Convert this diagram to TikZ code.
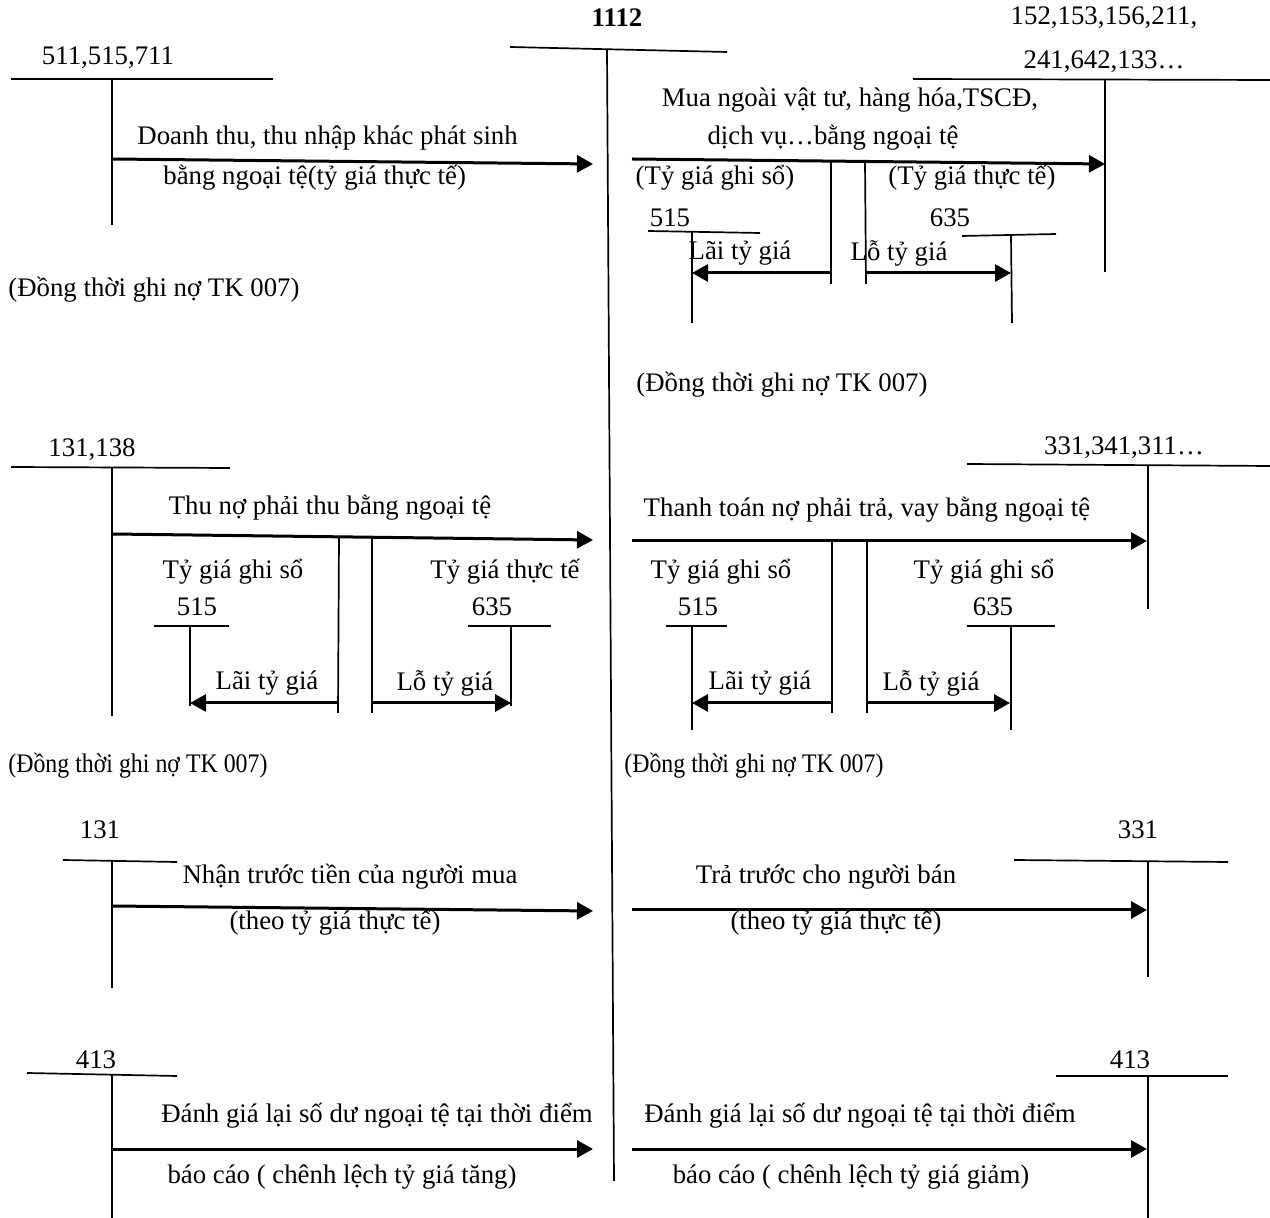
\documentclass[tikz,border=0pt]{standalone}
\usepackage{fontspec}
\setmainfont{Liberation Serif}
\usepackage{graphicx}
\usetikzlibrary{arrows.meta}
\begin{document}
\begin{tikzpicture}[x=0.5pt,y=-0.5pt,
  tline/.style={line width=0.85pt},
  flow/.style={line width=1.5pt,-{Triangle[length=8pt,width=8.5pt]}},
  lbl/.style={font=\fontsize{13.4}{15}\selectfont, inner sep=0pt},
  lblw/.style={lbl, anchor=west},
]
\useasboundingbox (0,0) rectangle (1270,1218);

% ---------- central account 1112 ----------
\node[lbl] (t1112) at (617,18) {\textbf{1112}};
\coordinate (cL) at (510,47);
\coordinate (cR) at (727,52);
\coordinate (cTop) at (607,50);
\coordinate (cBot) at (614,1181);
\draw[tline] (cL) -- (cR);
\draw[tline] (cTop) -- (cBot);

% ---------- Row 1 left: 511,515,711 ----------
\node[lbl] (n511) at (108,58) {511,515,711};
\coordinate (aL) at (11,79);
\coordinate (aR) at (273,79);
\coordinate (aTop) at (112,79);
\coordinate (aBot) at (112,225);
\draw[tline] (aL) -- (aR);
\draw[tline] (aTop) -- (aBot);
\coordinate (aS) at (112,159);
\coordinate (aE) at (593,164);
\draw[flow] (aS) -- (aE);
\node[lblw] (a1) at (137,138) {Doanh thu, thu nhập khác phát sinh};
\node[lblw] (a2) at (163,178) {bằng ngoại tệ(tỷ giá thực tế)};
\node[lblw] (a3) at (8,290) {(Đồng thời ghi nợ TK 007)};

% ---------- Row 1 right: 152,... ----------
\node[lbl] (n152) at (1104,18) {152,153,156,211,};
\node[lbl] (n241) at (1104,62) {241,642,133…};
\coordinate (bL) at (913,79);
\coordinate (bR) at (1270,80);
\coordinate (bTop) at (1105,80);
\coordinate (bBot) at (1105,272);
\draw[tline] (bL) -- (bR);
\draw[tline] (bTop) -- (bBot);
\coordinate (bS) at (632,159);
\coordinate (bE) at (1105,164);
\draw[flow] (bS) -- (bE);
\node[lbl] (b1) at (850,100) {Mua ngoài vật tư, hàng hóa,TSCĐ,};
\node[lbl] (b2) at (833,138) {dịch vụ…bằng ngoại tệ};
\node[lbl] (b3) at (715,178) {(Tỷ giá ghi sổ)};
\node[lbl] (b4) at (972,178) {(Tỷ giá thực tế)};
\coordinate (bV1t) at (831,161);
\coordinate (bV1b) at (831,284);
\coordinate (bV2t) at (865,161);
\coordinate (bV2b) at (866,284);
\draw[tline] (bV1t) -- (bV1b);
\draw[tline] (bV2t) -- (bV2b);
\node[lbl] (b515) at (670,218) {515};
\coordinate (b5L) at (648,231);
\coordinate (b5R) at (760,233);
\coordinate (b5Top) at (692,232);
\coordinate (b5Bot) at (692,323);
\draw[tline] (b5L) -- (b5R);
\draw[tline] (b5Top) -- (b5Bot);
\node[lbl] (b635) at (950,218) {635};
\coordinate (b6L) at (962,236);
\coordinate (b6R) at (1056,234);
\coordinate (b6Top) at (1011,235);
\coordinate (b6Bot) at (1012,323);
\draw[tline] (b6L) -- (b6R);
\draw[tline] (b6Top) -- (b6Bot);
\coordinate (bLs) at (831,273);
\coordinate (bLe) at (692,273);
\coordinate (bRs) at (866,273);
\coordinate (bRe) at (1011,273);
\draw[flow] (bLs) -- (bLe);
\draw[flow] (bRs) -- (bRe);
\node[lbl] (b5t) at (740,253) {Lãi tỷ giá};
\node[lbl] (b6t) at (899,253) {Lỗ tỷ giá};
\node[lblw] (b7) at (636,385) {(Đồng thời ghi nợ TK 007)};

% ---------- Row 2 left: 131,138 ----------
\node[lbl] (n131138) at (92,450) {131,138};
\coordinate (cl1L) at (11,467);
\coordinate (cl1R) at (230,468);
\coordinate (cl1Top) at (112,468);
\coordinate (cl1Bot) at (112,716);
\draw[tline] (cl1L) -- (cl1R);
\draw[tline] (cl1Top) -- (cl1Bot);
\coordinate (c1S) at (112,534);
\coordinate (c1E) at (593,540);
\draw[flow] (c1S) -- (c1E);
\node[lbl] (c1t) at (330,508) {Thu nợ phải thu bằng ngoại tệ};
\coordinate (c1V1t) at (339,537);
\coordinate (c1V1b) at (338,713);
\coordinate (c1V2t) at (372,538);
\coordinate (c1V2b) at (372,713);
\draw[tline] (c1V1t) -- (c1V1b);
\draw[tline] (c1V2t) -- (c1V2b);
\node[lbl] (c1g) at (233,572) {Tỷ giá ghi sổ};
\node[lbl] (c1h) at (505,572) {Tỷ giá thực tế};
\node[lbl] (c1515) at (197,607) {515};
\coordinate (c15L) at (154,626);
\coordinate (c15R) at (229,626);
\coordinate (c15Top) at (190,626);
\coordinate (c15Bot) at (190,706);
\draw[tline] (c15L) -- (c15R);
\draw[tline] (c15Top) -- (c15Bot);
\node[lbl] (c1635) at (492,607) {635};
\coordinate (c16L) at (468,626);
\coordinate (c16R) at (551,626);
\coordinate (c16Top) at (511,626);
\coordinate (c16Bot) at (511,706);
\draw[tline] (c16L) -- (c16R);
\draw[tline] (c16Top) -- (c16Bot);
\coordinate (c1Ls) at (338,703);
\coordinate (c1Le) at (190,703);
\coordinate (c1Rs) at (372,703);
\coordinate (c1Re) at (511,703);
\draw[flow] (c1Ls) -- (c1Le);
\draw[flow] (c1Rs) -- (c1Re);
\node[lbl] (c1lai) at (267,683) {Lãi tỷ giá};
\node[lbl] (c1lo) at (445,683) {Lỗ tỷ giá};
\node[lblw] (c1d) at (8,766) {\scalebox{0.89}[1]{(Đồng thời ghi nợ TK 007)}};

% ---------- Row 2 right: 331,341,311 ----------
\node[lbl] (n331341) at (1124,448) {331,341,311…};
\coordinate (d1L) at (967,464);
\coordinate (d1R) at (1270,466);
\coordinate (d1Top) at (1148,466);
\coordinate (d1Bot) at (1148,609);
\draw[tline] (d1L) -- (d1R);
\draw[tline] (d1Top) -- (d1Bot);
\coordinate (d1S) at (632,541);
\coordinate (d1E) at (1147,541);
\draw[flow] (d1S) -- (d1E);
\node[lbl] (d1t) at (867,510) {Thanh toán nợ phải trả, vay bằng ngoại tệ};
\coordinate (d1V1t) at (832,541);
\coordinate (d1V1b) at (832,713);
\coordinate (d1V2t) at (867,541);
\coordinate (d1V2b) at (867,713);
\draw[tline] (d1V1t) -- (d1V1b);
\draw[tline] (d1V2t) -- (d1V2b);
\node[lbl] (d1g) at (721,572) {Tỷ giá ghi sổ};
\node[lbl] (d1h) at (984,572) {Tỷ giá ghi sổ};
\node[lbl] (d1515) at (698,607) {515};
\coordinate (d15L) at (666,626);
\coordinate (d15R) at (727,626);
\coordinate (d15Top) at (692,626);
\coordinate (d15Bot) at (692,730);
\draw[tline] (d15L) -- (d15R);
\draw[tline] (d15Top) -- (d15Bot);
\node[lbl] (d1635) at (993,607) {635};
\coordinate (d16L) at (967,626);
\coordinate (d16R) at (1055,626);
\coordinate (d16Top) at (1011,626);
\coordinate (d16Bot) at (1011,730);
\draw[tline] (d16L) -- (d16R);
\draw[tline] (d16Top) -- (d16Bot);
\coordinate (d1Ls) at (832,703);
\coordinate (d1Le) at (692,703);
\coordinate (d1Rs) at (867,703);
\coordinate (d1Re) at (1010,703);
\draw[flow] (d1Ls) -- (d1Le);
\draw[flow] (d1Rs) -- (d1Re);
\node[lbl] (d1lai) at (760,683) {Lãi tỷ giá};
\node[lbl] (d1lo) at (931,683) {Lỗ tỷ giá};
\node[lblw] (d1d) at (624,766) {\scalebox{0.89}[1]{(Đồng thời ghi nợ TK 007)}};

% ---------- Row 3 left: 131 ----------
\node[lbl] (n131) at (100,830) {131};
\coordinate (e1L) at (63,860);
\coordinate (e1R) at (177,862);
\coordinate (e1Top) at (112,861);
\coordinate (e1Bot) at (112,988);
\draw[tline] (e1L) -- (e1R);
\draw[tline] (e1Top) -- (e1Bot);
\coordinate (e1S) at (112,906);
\coordinate (e1E) at (593,911);
\draw[flow] (e1S) -- (e1E);
\node[lbl] (e1t) at (350,877) {Nhận trước tiền của người mua};
\node[lbl] (e1u) at (335,923) {(theo tỷ giá thực tế)};

% ---------- Row 3 right: 331 ----------
\node[lbl] (n331) at (1138,830) {331};
\coordinate (f1L) at (1014,860);
\coordinate (f1R) at (1228,862);
\coordinate (f1Top) at (1148,861);
\coordinate (f1Bot) at (1148,977);
\draw[tline] (f1L) -- (f1R);
\draw[tline] (f1Top) -- (f1Bot);
\coordinate (f1S) at (632,910);
\coordinate (f1E) at (1147,910);
\draw[flow] (f1S) -- (f1E);
\node[lbl] (f1t) at (826,877) {Trả trước cho người bán};
\node[lbl] (f1u) at (836,923) {(theo tỷ giá thực tế)};

% ---------- Row 4 left: 413 ----------
\node[lbl] (n413a) at (96,1060) {413};
\coordinate (g1L) at (27,1073);
\coordinate (g1R) at (177,1076);
\coordinate (g1Top) at (112,1075);
\coordinate (g1Bot) at (112,1218);
\draw[tline] (g1L) -- (g1R);
\draw[tline] (g1Top) -- (g1Bot);
\coordinate (g1S) at (112,1149);
\coordinate (g1E) at (593,1149);
\draw[flow] (g1S) -- (g1E);
\node[lbl] (g1t) at (377,1116) {Đánh giá lại số dư ngoại tệ tại thời điểm};
\node[lbl] (g1u) at (342,1177) {báo cáo ( chênh lệch tỷ giá tăng)};

% ---------- Row 4 right: 413 ----------
\node[lbl] (n413b) at (1130,1060) {413};
\coordinate (h1L) at (1056,1076);
\coordinate (h1R) at (1228,1076);
\coordinate (h1Top) at (1148,1076);
\coordinate (h1Bot) at (1148,1218);
\draw[tline] (h1L) -- (h1R);
\draw[tline] (h1Top) -- (h1Bot);
\coordinate (h1S) at (632,1149);
\coordinate (h1E) at (1147,1149);
\draw[flow] (h1S) -- (h1E);
\node[lbl] (h1t) at (860,1116) {Đánh giá lại số dư ngoại tệ tại thời điểm};
\node[lbl] (h1u) at (851,1177) {báo cáo ( chênh lệch tỷ giá giảm)};
\end{tikzpicture}
\end{document}
